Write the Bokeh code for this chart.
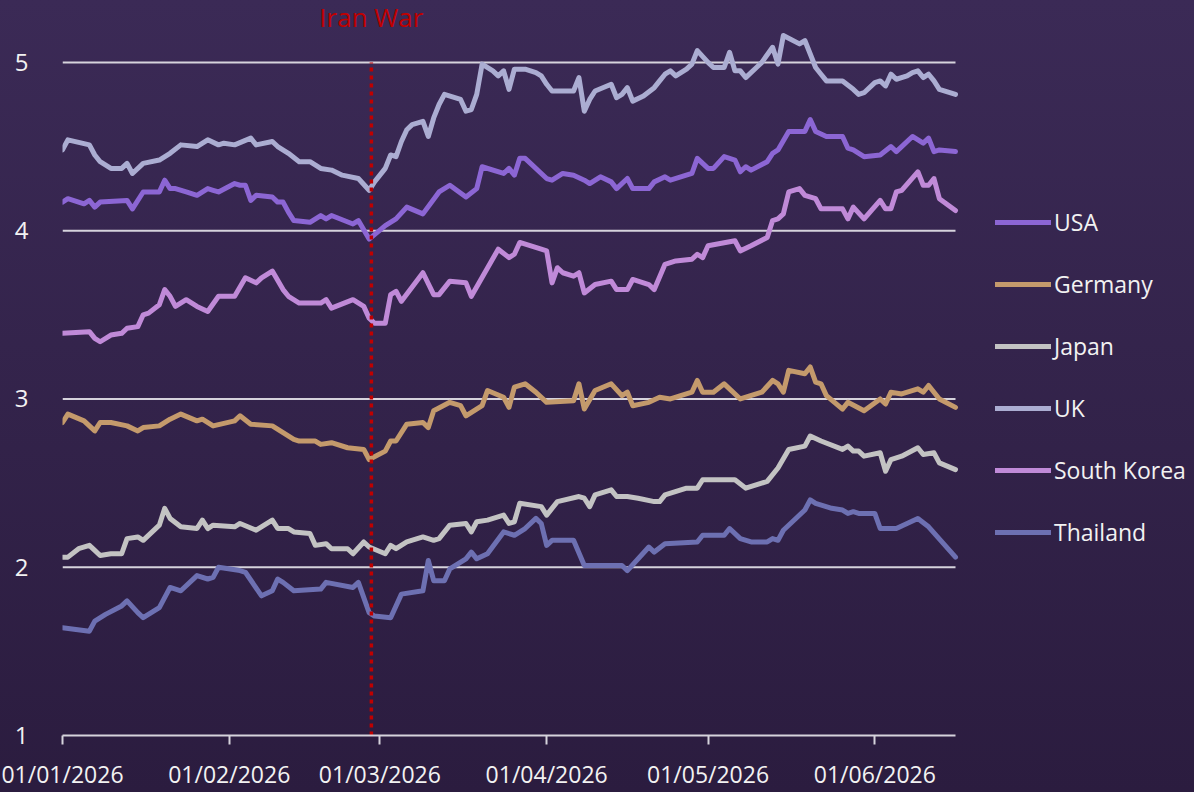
from datetime import datetime, timedelta
from bokeh.plotting import figure
from bokeh.models import Range1d, FixedTicker, DatetimeTickFormatter, Legend, LegendItem
from bokeh.core.properties import value
from bokeh.embed import file_html
from bokeh.resources import INLINE

# ---------------- data ----------------
START = datetime(2026, 1, 1)
LAST_DAY = 166                      # 16/06/2026
WAR_DATE = datetime(2026, 2, 27, 10)
WAR_LABEL = "Iran War"
TICK_MONTHS = [1, 2, 3, 4, 5, 6]
Y_TICKS = [1, 2, 3, 4, 5]
SERIES_NAMES = ["USA", "Germany", "Japan", "UK", "South Korea", "Thailand"]

USA_DAYS = [0, 1, 4, 5, 6, 7, 12, 13, 15, 18, 19, 20, 21, 23, 25, 27, 28, 29, 32, 33, 34, 35, 36, 39, 40, 41, 42, 43, 46, 48, 49, 50, 54, 55, 57, 60, 62, 64, 67, 70, 72, 75, 77, 78, 82, 83, 84, 85, 86, 90, 91, 93, 95, 97, 98, 100, 102, 103, 105, 106, 109, 110, 112, 113, 117, 118, 120, 121, 123, 125, 126, 127, 128, 131, 132, 133, 135, 138, 139, 140, 142, 145, 146, 147, 149, 152, 154, 155, 158, 160, 161, 162, 163, 166]
USA = [4.17, 4.19, 4.16, 4.18, 4.14, 4.17, 4.18, 4.13, 4.23, 4.23, 4.30, 4.25, 4.25, 4.23, 4.21, 4.25, 4.24, 4.23, 4.28, 4.27, 4.27, 4.18, 4.21, 4.20, 4.17, 4.17, 4.11, 4.06, 4.05, 4.09, 4.07, 4.09, 4.04, 4.06, 3.95, 4.03, 4.07, 4.14, 4.10, 4.23, 4.27, 4.20, 4.25, 4.38, 4.34, 4.37, 4.33, 4.43, 4.43, 4.31, 4.30, 4.34, 4.33, 4.30, 4.28, 4.32, 4.29, 4.25, 4.31, 4.25, 4.25, 4.29, 4.32, 4.30, 4.34, 4.43, 4.37, 4.37, 4.44, 4.42, 4.35, 4.38, 4.36, 4.41, 4.46, 4.48, 4.59, 4.59, 4.66, 4.59, 4.56, 4.56, 4.49, 4.48, 4.44, 4.45, 4.50, 4.47, 4.56, 4.52, 4.55, 4.47, 4.48, 4.47]

GERMANY_DAYS = [0, 1, 4, 6, 7, 9, 12, 14, 15, 18, 20, 22, 25, 26, 28, 32, 33, 35, 39, 41, 43, 44, 47, 48, 50, 53, 56, 57, 60, 61, 62, 64, 67, 68, 69, 72, 74, 75, 78, 79, 82, 83, 84, 86, 88, 90, 95, 96, 97, 99, 102, 104, 105, 106, 109, 111, 113, 117, 118, 119, 121, 123, 126, 130, 132, 133, 134, 135, 138, 139, 140, 141, 142, 145, 146, 149, 152, 153, 154, 156, 159, 160, 161, 163, 166]
GERMANY = [2.86, 2.91, 2.87, 2.81, 2.86, 2.86, 2.84, 2.81, 2.83, 2.84, 2.88, 2.91, 2.87, 2.88, 2.84, 2.87, 2.90, 2.85, 2.84, 2.80, 2.76, 2.75, 2.75, 2.73, 2.74, 2.71, 2.70, 2.64, 2.69, 2.75, 2.75, 2.85, 2.86, 2.83, 2.93, 2.98, 2.96, 2.90, 2.96, 3.05, 3.01, 2.95, 3.07, 3.09, 3.04, 2.98, 2.99, 3.09, 2.94, 3.05, 3.09, 3.02, 3.04, 2.96, 2.98, 3.01, 3.00, 3.04, 3.11, 3.04, 3.04, 3.09, 3.00, 3.04, 3.11, 3.09, 3.04, 3.17, 3.15, 3.19, 3.10, 3.09, 3.02, 2.94, 2.98, 2.93, 3.00, 2.97, 3.04, 3.03, 3.06, 3.04, 3.08, 3.00, 2.95]

JAPAN_DAYS = [0, 1, 3, 5, 6, 7, 9, 11, 12, 14, 15, 18, 19, 20, 22, 25, 26, 27, 28, 32, 33, 36, 39, 40, 42, 43, 46, 47, 49, 50, 53, 54, 56, 57, 60, 61, 62, 64, 67, 69, 70, 72, 75, 76, 77, 79, 82, 83, 84, 85, 89, 90, 92, 96, 97, 98, 99, 102, 103, 105, 107, 110, 111, 112, 116, 118, 119, 125, 127, 131, 133, 135, 138, 139, 141, 145, 146, 147, 148, 149, 152, 153, 154, 156, 159, 160, 162, 163, 166]
JAPAN = [2.06, 2.06, 2.11, 2.13, 2.10, 2.07, 2.08, 2.08, 2.17, 2.18, 2.16, 2.25, 2.35, 2.29, 2.24, 2.23, 2.28, 2.23, 2.25, 2.24, 2.26, 2.22, 2.28, 2.23, 2.23, 2.21, 2.20, 2.13, 2.14, 2.11, 2.11, 2.08, 2.15, 2.12, 2.08, 2.13, 2.11, 2.15, 2.18, 2.16, 2.17, 2.25, 2.26, 2.21, 2.27, 2.28, 2.31, 2.26, 2.27, 2.38, 2.36, 2.31, 2.39, 2.42, 2.41, 2.36, 2.43, 2.46, 2.42, 2.42, 2.41, 2.39, 2.39, 2.43, 2.47, 2.47, 2.52, 2.52, 2.47, 2.51, 2.59, 2.70, 2.72, 2.78, 2.75, 2.70, 2.72, 2.69, 2.69, 2.66, 2.68, 2.57, 2.64, 2.66, 2.71, 2.67, 2.68, 2.62, 2.58]

UK_DAYS = [0, 1, 5, 6, 7, 9, 11, 12, 13, 15, 18, 20, 22, 25, 27, 29, 30, 32, 35, 36, 39, 40, 42, 44, 46, 48, 50, 52, 55, 57, 58, 60, 61, 62, 63, 64, 65, 67, 68, 69, 70, 71, 74, 75, 76, 77, 78, 80, 81, 82, 83, 84, 86, 88, 89, 90, 91, 95, 96, 97, 98, 99, 102, 103, 104, 105, 106, 108, 110, 111, 112, 113, 114, 116, 117, 118, 120, 121, 123, 124, 125, 126, 127, 129, 130, 132, 133, 134, 137, 138, 139, 140, 141, 142, 145, 147, 148, 149, 151, 152, 153, 154, 155, 157, 158, 159, 160, 161, 162, 163, 166]
UK = [4.48, 4.54, 4.51, 4.45, 4.41, 4.37, 4.37, 4.40, 4.34, 4.40, 4.42, 4.46, 4.51, 4.50, 4.54, 4.51, 4.52, 4.51, 4.55, 4.51, 4.53, 4.50, 4.46, 4.41, 4.41, 4.37, 4.36, 4.33, 4.31, 4.24, 4.29, 4.37, 4.45, 4.44, 4.53, 4.60, 4.63, 4.65, 4.56, 4.67, 4.75, 4.81, 4.78, 4.71, 4.72, 4.81, 4.99, 4.95, 4.92, 4.95, 4.84, 4.96, 4.96, 4.94, 4.92, 4.87, 4.83, 4.83, 4.91, 4.71, 4.78, 4.83, 4.87, 4.79, 4.81, 4.85, 4.77, 4.80, 4.85, 4.89, 4.93, 4.95, 4.92, 4.96, 4.99, 5.07, 5.00, 4.97, 4.97, 5.06, 4.95, 4.95, 4.91, 4.97, 5.00, 5.09, 4.99, 5.16, 5.11, 5.13, 5.05, 4.97, 4.93, 4.89, 4.89, 4.84, 4.81, 4.82, 4.88, 4.89, 4.86, 4.93, 4.90, 4.92, 4.94, 4.95, 4.91, 4.93, 4.89, 4.84, 4.81]

KOREA_DAYS = [0, 5, 6, 7, 9, 11, 12, 14, 15, 16, 18, 19, 20, 21, 23, 25, 27, 29, 32, 34, 36, 37, 39, 41, 42, 44, 48, 49, 50, 54, 56, 57, 58, 60, 61, 62, 63, 67, 69, 70, 72, 75, 76, 81, 83, 84, 85, 89, 90, 91, 92, 93, 95, 96, 97, 99, 102, 103, 105, 106, 109, 110, 112, 114, 117, 118, 119, 120, 125, 126, 128, 131, 132, 133, 134, 135, 137, 138, 140, 141, 145, 146, 147, 149, 152, 153, 154, 155, 156, 159, 160, 161, 162, 163, 166]
KOREA = [3.39, 3.40, 3.36, 3.34, 3.38, 3.39, 3.42, 3.43, 3.50, 3.51, 3.56, 3.65, 3.61, 3.55, 3.59, 3.55, 3.52, 3.61, 3.61, 3.72, 3.69, 3.72, 3.76, 3.65, 3.61, 3.57, 3.57, 3.59, 3.54, 3.59, 3.55, 3.48, 3.45, 3.45, 3.62, 3.64, 3.58, 3.75, 3.62, 3.62, 3.70, 3.69, 3.61, 3.89, 3.84, 3.86, 3.93, 3.89, 3.88, 3.69, 3.78, 3.75, 3.73, 3.75, 3.63, 3.68, 3.70, 3.65, 3.65, 3.71, 3.68, 3.65, 3.80, 3.82, 3.83, 3.86, 3.84, 3.91, 3.94, 3.88, 3.91, 3.96, 4.06, 4.07, 4.10, 4.23, 4.25, 4.21, 4.19, 4.13, 4.13, 4.07, 4.14, 4.07, 4.18, 4.13, 4.13, 4.23, 4.24, 4.35, 4.27, 4.27, 4.31, 4.19, 4.12]

THAILAND_DAYS = [0, 5, 6, 8, 11, 12, 14, 15, 18, 20, 22, 25, 27, 28, 29, 33, 34, 37, 39, 40, 41, 43, 48, 49, 54, 55, 57, 58, 61, 63, 67, 68, 69, 71, 72, 75, 76, 77, 79, 82, 84, 86, 88, 89, 90, 91, 95, 97, 98, 104, 105, 109, 110, 112, 118, 119, 123, 124, 126, 128, 131, 132, 133, 134, 138, 139, 140, 143, 145, 146, 147, 148, 151, 152, 155, 159, 161, 166]
THAILAND = [1.64, 1.62, 1.68, 1.72, 1.77, 1.80, 1.73, 1.70, 1.76, 1.88, 1.86, 1.95, 1.93, 1.94, 2.00, 1.98, 1.97, 1.83, 1.86, 1.93, 1.91, 1.86, 1.87, 1.91, 1.88, 1.91, 1.73, 1.71, 1.70, 1.84, 1.86, 2.04, 1.92, 1.92, 1.99, 2.05, 2.09, 2.05, 2.08, 2.21, 2.19, 2.23, 2.29, 2.26, 2.13, 2.16, 2.16, 2.01, 2.01, 2.01, 1.98, 2.12, 2.09, 2.14, 2.15, 2.19, 2.19, 2.23, 2.17, 2.15, 2.15, 2.17, 2.16, 2.22, 2.34, 2.40, 2.38, 2.35, 2.34, 2.32, 2.33, 2.32, 2.32, 2.23, 2.23, 2.29, 2.24, 2.06]

SERIES_DAYS = [USA_DAYS, GERMANY_DAYS, JAPAN_DAYS, UK_DAYS, KOREA_DAYS, THAILAND_DAYS]
SERIES_VALUES = [USA, GERMANY, JAPAN, UK, KOREA, THAILAND]
COLORS = ["#8c66d4", "#c49a6c", "#c3c3c3", "#abadd2", "#c08ad8", "#6d70b2"]

# ---------------- style ----------------
FONT = "Open Sans"
TEXT_COLOR = "#f2f2f2"
GRID_COLOR = "#d6d3dc"
WAR_COLOR = "#c00000"

W, H = 1194, 792
FRAME_L, DATA_R, FRAME_B = 62, 955, 736
PX_PER_UNIT = 168.5
PX_PER_DAY = (DATA_R - FRAME_L) / LAST_DAY


def ms(dt):
    return (dt - datetime(1970, 1, 1)).total_seconds() * 1000.0


LAST = START + timedelta(days=LAST_DAY)
view_end = START + timedelta(days=(W - FRAME_L) / PX_PER_DAY)
y_top = Y_TICKS[0] + FRAME_B / PX_PER_UNIT

p = figure(width=W, height=H, x_axis_type="datetime",
           x_range=Range1d(START, view_end),
           y_range=Range1d(Y_TICKS[0], y_top),
           output_backend="svg", toolbar_location=None,
           min_border_left=FRAME_L, min_border_right=0,
           min_border_top=0, min_border_bottom=H - FRAME_B)
p.styles = {"background": "linear-gradient(180deg, #3b2a56 0%, #2b1c3f 100%)"}
p.background_fill_alpha = 0
p.border_fill_alpha = 0
p.outline_line_color = None

# axes
xa = p.xaxis[0]
xa.bounds = (ms(START), ms(LAST))
xa.ticker = FixedTicker(ticks=[ms(datetime(2026, m, 1)) for m in TICK_MONTHS])
xa.formatter = DatetimeTickFormatter(days="%d/%m/%Y", months="%d/%m/%Y",
                                     years="%d/%m/%Y", hours="%d/%m/%Y")
xa.axis_line_color = GRID_COLOR
xa.axis_line_width = 2
xa.major_tick_line_color = GRID_COLOR
xa.major_tick_line_width = 2
xa.major_tick_out = 9
xa.major_tick_in = 0
xa.minor_tick_line_color = None
xa.minor_tick_out = 0
xa.major_label_text_color = TEXT_COLOR
xa.major_label_text_font = FONT
xa.major_label_text_font_size = "23px"
xa.major_label_standoff = 13

ya = p.yaxis[0]
ya.ticker = FixedTicker(ticks=Y_TICKS)
ya.axis_line_color = None
ya.major_tick_line_color = None
ya.major_tick_out = 0
ya.major_tick_in = 0
ya.minor_tick_line_color = None
ya.minor_tick_out = 0
ya.major_label_text_color = TEXT_COLOR
ya.major_label_text_font = FONT
ya.major_label_text_font_size = "24px"
ya.major_label_standoff = 34

p.xgrid.grid_line_color = None
p.ygrid.grid_line_color = None

# horizontal gridlines over the data period only
grid_y = Y_TICKS[1:]
p.segment(x0=[START] * len(grid_y), y0=grid_y, x1=[LAST] * len(grid_y), y1=grid_y,
          line_color=GRID_COLOR, line_width=2)

# series
items = []
for name, days, vals, col in zip(SERIES_NAMES, SERIES_DAYS, SERIES_VALUES, COLORS):
    xs = [START + timedelta(days=d) for d in days]
    r = p.line(xs, vals, line_color=col, line_width=5,
               line_join="round", line_cap="round")
    items.append(LegendItem(label=name, renderers=[r]))

# war marker
p.segment(x0=[WAR_DATE], y0=[Y_TICKS[0]], x1=[WAR_DATE], y1=[Y_TICKS[-1]],
          line_color=WAR_COLOR, line_width=3.5, line_dash="4 4")
p.text(x=[WAR_DATE], y=[Y_TICKS[-1] + 0.27], text=[WAR_LABEL],
       text_color=WAR_COLOR, text_font=value(FONT), text_font_size="26px",
       text_align="center", text_baseline="middle")

legend = Legend(items=items, location=(995 - FRAME_L, 187),
                background_fill_alpha=0, border_line_color=None,
                padding=0, margin=0, spacing=30,
                glyph_width=56, glyph_height=28, label_height=28,
                label_standoff=3,
                label_text_color=TEXT_COLOR, label_text_font=FONT,
                label_text_font_size="23px")
p.add_layout(legend, "center")

open("out.html", "w").write(file_html(p, INLINE))
